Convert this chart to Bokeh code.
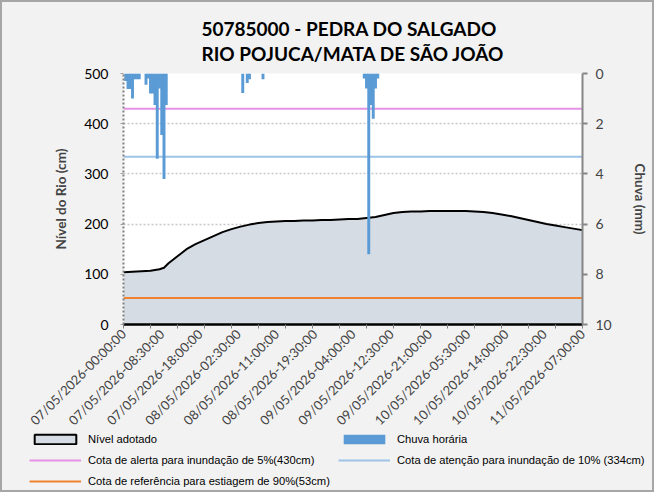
import math
from bokeh.plotting import figure
from bokeh.layouts import column
from bokeh.models import Range1d, LinearAxis, FixedTicker, Legend, LegendItem, ColumnDataSource
from bokeh.embed import file_html
from bokeh.resources import INLINE

# ---- data ----
level_idx = [0, 4, 8, 12, 16, 18, 20, 24, 28, 32, 36, 40, 44, 48, 52, 56, 60, 64, 68, 72,
             76, 80, 84, 88, 92, 96, 100, 104, 108, 112, 116, 120, 124, 128, 132, 136, 140,
             144, 148, 152, 156, 160, 164, 168, 172, 176, 180, 184, 188, 192, 196, 200, 204]
level_cm = [104, 105, 106, 107, 110, 113, 122, 136, 150, 160, 168, 176, 184, 190, 195, 199,
            202, 204, 205, 206, 206, 207, 207, 208, 208, 209, 210, 210, 212, 214, 218, 222,
            224, 225, 225, 226, 226, 226, 226, 226, 225, 224, 222, 219, 216, 212, 208, 204,
            200, 197, 194, 191, 188]

rain_idx = [1, 2, 3, 4, 5, 6, 7, 10, 11, 12, 13, 14, 15, 16, 17, 18, 19,
            53, 55, 56, 62,
            107, 108, 109, 110, 111, 112, 113]
rain_mm = [0.3, 0.62, 0.62, 1.0, 0.23, 0.23, 0.23, 0.45, 0.2, 0.8, 0.8, 1.25, 3.4, 0.6, 2.45, 4.2, 1.25,
           0.78, 0.38, 0.23, 0.23,
           0.2, 0.6, 7.2, 1.25, 1.8, 0.6, 0.2]

tick_idx = [0, 17, 34, 51, 68, 85, 102, 119, 136, 153, 170, 187, 204]
tick_labels = ["07/05/2026-00:00:00", "07/05/2026-08:30:00", "07/05/2026-18:00:00",
               "08/05/2026-02:30:00", "08/05/2026-11:00:00", "08/05/2026-19:30:00",
               "09/05/2026-04:00:00", "09/05/2026-12:30:00", "09/05/2026-21:00:00",
               "10/05/2026-05:30:00", "10/05/2026-14:00:00", "10/05/2026-22:30:00",
               "11/05/2026-07:00:00"]
minor_tick_idx = list(range(0, 205, 12))

alert_cm = 430
attention_cm = 334
reference_cm = 53

level_ticks = [0, 100, 200, 300, 400, 500]
rain_ticks = [0, 2, 4, 6, 8, 10]

FONT = "Lato"
LEG_FONT = "Liberation Sans"
BG = "#f2f2f2"
INNER_W = 650

p = figure(width=INNER_W, height=441, output_backend="svg", toolbar_location=None,
           x_range=Range1d(tick_idx[0], tick_idx[-1]), y_range=Range1d(0, 500),
           min_border_left=121, min_border_right=70, min_border_top=71, min_border_bottom=119)
p.frame_align = False
p.border_fill_color = BG
p.background_fill_color = "white"
p.outline_line_color = None
p.extra_y_ranges = {"rain": Range1d(10, 0)}

# title
p.title.text = "50785000 - PEDRA DO SALGADO\nRIO POJUCA/MATA DE SÃO JOÃO"
p.title.align = "center"
p.title.text_font = FONT
p.title.text_font_size = "19px"
p.title.text_font_style = "bold"
p.title.text_color = "black"
p.title.text_line_height = 1.1
p.title.standoff = 16

# grids
p.xgrid.visible = False
p.ygrid.ticker = FixedTicker(ticks=level_ticks)
p.ygrid.grid_line_color = "#c8c8c8"
p.ygrid.grid_line_dash = "2 2"
p.ygrid.grid_line_width = 1.5

# left axis
ya = p.yaxis[0]
ya.ticker = FixedTicker(ticks=level_ticks)
ya.axis_line_color = "#808080"
ya.axis_line_dash = "2 2"
ya.axis_line_width = 2
ya.major_tick_line_color = "#a0a0a0"
ya.major_tick_out = 3
ya.major_tick_in = 0
ya.minor_tick_line_color = None
ya.major_label_standoff = 12
ya.major_label_text_font = FONT
ya.major_label_text_font_size = "14px"
ya.major_label_text_color = "black"
ya.axis_label = "Nível do Rio (cm)"
ya.axis_label_text_font = FONT
ya.axis_label_text_font_size = "13.5px"
ya.axis_label_text_font_style = "bold"
ya.axis_label_standoff = 12

# right axis
ra = LinearAxis(y_range_name="rain", ticker=FixedTicker(ticks=rain_ticks))
ra.axis_line_color = "#868686"
ra.axis_line_width = 2
ra.major_tick_line_color = "#868686"
ra.major_tick_line_width = 2
ra.major_tick_out = 5
ra.major_tick_in = 0
ra.minor_tick_line_color = None
ra.major_label_standoff = 8
ra.major_label_text_font = FONT
ra.major_label_text_font_size = "14px"
ra.axis_label = "Chuva (mm)"
ra.axis_label_text_font = FONT
ra.axis_label_text_font_size = "13.5px"
ra.axis_label_text_font_style = "bold"
ra.axis_label_standoff = 17
p.add_layout(ra, "right")

# bottom axis
xa = p.xaxis[0]
xa.ticker = FixedTicker(ticks=tick_idx, minor_ticks=minor_tick_idx)
xa.major_label_overrides = {i: s for i, s in zip(tick_idx, tick_labels)}
xa.major_label_orientation = math.pi / 4
xa.axis_line_color = "black"
xa.axis_line_width = 2.5
xa.major_tick_line_color = None
xa.major_tick_out = 0
xa.major_tick_in = 0
xa.minor_tick_line_color = "#808080"
xa.minor_tick_out = 4
xa.minor_tick_in = 0
xa.major_label_standoff = 3
xa.major_label_text_font = FONT
xa.major_label_text_font_size = "13px"

# area (level)
p.varea(x=level_idx, y1=[0] * len(level_idx), y2=level_cm, fill_color="#d6dce4")
p.line(level_idx, level_cm, line_color="black", line_width=2)

# reference lines
x_span = [tick_idx[0], tick_idx[-1]]
p.line(x_span, [reference_cm] * 2, line_color="#f0822f", line_width=2)
p.line(x_span, [attention_cm] * 2, line_color="#9dc3e6", line_width=2)
p.line(x_span, [alert_cm] * 2, line_color="#e592e5", line_width=2)

# rain bars
p.vbar(x=rain_idx, width=1.3, top=[0] * len(rain_idx), bottom=rain_mm,
       y_range_name="rain", fill_color="#5b9bd5", line_color=None)

# ---- legend strip ----
Q_H = 62
q = figure(width=INNER_W, height=Q_H, output_backend="svg", toolbar_location=None,
           x_range=Range1d(0, 1), y_range=Range1d(0, 1),
           min_border=0, min_border_left=0, min_border_right=0,
           min_border_top=0, min_border_bottom=0)
q.frame_align = False
q.axis.visible = False
q.grid.visible = False
q.outline_line_color = None
q.background_fill_alpha = 0
q.border_fill_alpha = 0
q.styles = {"margin-top": "-15px"}

nan = float("nan")
proxy = ColumnDataSource(data=dict(l=[nan], r=[nan], t=[nan], b=[nan], x=[nan], y=[nan]))
lvl_proxy = q.quad(left="l", right="r", top="t", bottom="b", source=proxy,
                   fill_color="#d6dce4", line_color="black", line_width=2)
rain_proxy = q.quad(left="l", right="r", top="t", bottom="b", source=proxy,
                    fill_color="#5b9bd5", line_color=None)
alert_proxy = q.line(x="x", y="y", source=proxy, line_color="#e592e5", line_width=2)
att_proxy = q.line(x="x", y="y", source=proxy, line_color="#9dc3e6", line_width=2)
ref_proxy = q.line(x="x", y="y", source=proxy, line_color="#f0822f", line_width=2)

def make_legend(items, loc):
    lg = Legend(items=items, location=loc, orientation="vertical")
    lg.padding = 0
    lg.margin = 0
    lg.border_line_color = None
    lg.background_fill_alpha = 0
    lg.glyph_width = 52
    lg.glyph_height = 12
    lg.label_height = 18
    lg.label_standoff = 7
    lg.spacing = 3
    lg.label_text_font = LEG_FONT
    lg.label_text_font_size = "11.2px"
    lg.label_text_color = "black"
    return lg

leg_a = make_legend([
    LegendItem(label="Nível adotado", renderers=[lvl_proxy]),
    LegendItem(label="Cota de alerta para inundação de 5%(430cm)", renderers=[alert_proxy]),
    LegendItem(label="Cota de referência para estiagem de 90%(53cm)", renderers=[ref_proxy]),
], (27, 0))
leg_b = make_legend([
    LegendItem(label="Chuva horária", renderers=[rain_proxy]),
    LegendItem(label="Cota de atenção para inundação de 10% (334cm)", renderers=[att_proxy]),
], (336, 21))
q.add_layout(leg_a, "center")
q.add_layout(leg_b, "center")

layout = column(p, q, spacing=0,
                styles={"border": "2px solid #a6a6a6", "background-color": BG})

open("out.html", "w").write(file_html(layout, INLINE))
